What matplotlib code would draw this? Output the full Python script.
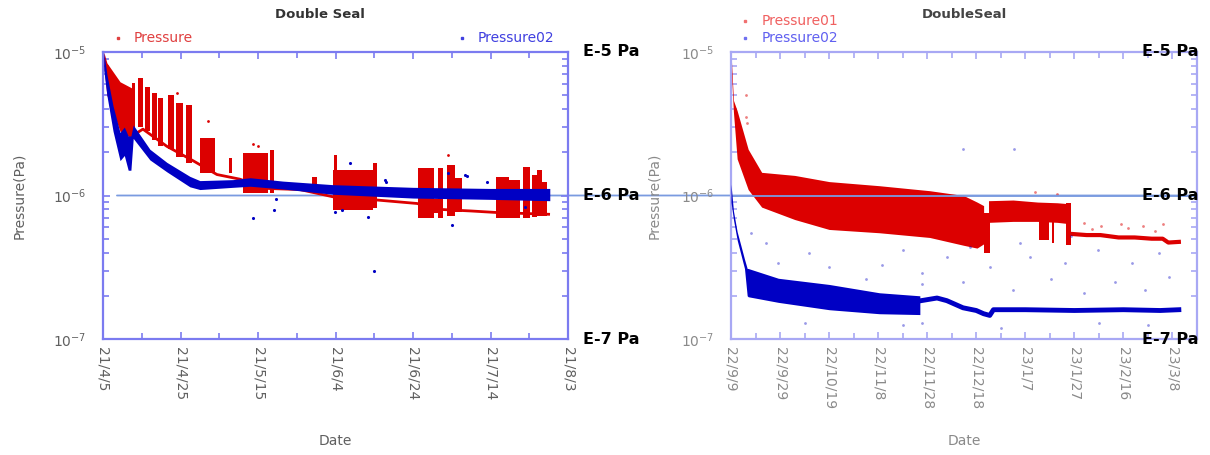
import matplotlib
matplotlib.use("Agg")
import matplotlib.pyplot as plt
import matplotlib.ticker as mticker
import matplotlib.dates as mdates
from matplotlib.patches import ConnectionPatch
from matplotlib.transforms import blended_transform_factory
import numpy as np
import pandas as pd

RED = "#dc0000"
BLUE = "#0000c4"

# ---------------- left chart "Double Seal", days after 2021-04-05 ----------------
l_start = "2021-04-05"
l_span = 120
l_labels = ["21/4/5", "21/4/25", "21/5/15", "21/6/4", "21/6/24", "21/7/14", "21/8/3"]

# Pressure02 band
l_blue_day = [0.2, 1.0, 2.6, 4.4, 5.5, 6.5, 7.2, 7.8, 12.1, 16.5, 22.4, 25, 33.5, 38, 46.4, 59.3, 80, 100, 115.3]
l_blue_lo = [7.5e-6, 5.0e-6, 2.8e-6, 1.75e-6, 1.9e-6, 1.5e-6, 1.5e-6, 2.5e-6, 1.77e-6, 1.46e-6, 1.15e-6, 1.1e-6,
             1.14e-6, 1.16e-6, 1.11e-6, 1.02e-6, 0.96e-6, 0.94e-6, 0.92e-6]
l_blue_hi = [1.0e-5, 7.0e-6, 4.2e-6, 2.75e-6, 3.0e-6, 2.6e-6, 2.6e-6, 3.1e-6, 2.1e-6, 1.7e-6, 1.36e-6, 1.27e-6,
             1.29e-6, 1.33e-6, 1.26e-6, 1.19e-6, 1.14e-6, 1.12e-6, 1.12e-6]
l_blue_pt_day = [38.7, 44.0, 44.6, 59.9, 61.7, 63.7, 68.4, 70, 72.7, 73, 89, 90, 93.4, 94, 99, 109]
l_blue_pt_p = [7.0e-7, 7.9e-7, 9.4e-7, 7.7e-7, 7.9e-7, 1.68e-6, 7.1e-7, 3.0e-7, 1.28e-6, 1.24e-6, 1.43e-6,
               6.2e-7, 1.4e-6, 1.37e-6, 1.24e-6, 8.3e-7]

# Pressure: early band, base line, bursts
l_red_day = [0.2, 1.0, 4.4, 7.5]
l_red_lo = [8e-6, 5e-6, 2.8e-6, 2.5e-6]
l_red_hi = [1e-5, 8.4e-6, 6.2e-6, 5.6e-6]
l_base_day = [7.5, 10.3, 16.5, 23.2, 29.4, 35.3, 42.3, 50.8, 59.3, 70.7, 81, 87, 95, 102, 115]
l_base_p = [2.6e-6, 2.9e-6, 2.2e-6, 1.75e-6, 1.4e-6, 1.3e-6, 1.12e-6, 1.1e-6, 0.98e-6, 0.93e-6, 0.88e-6,
            0.8e-6, 0.78e-6, 0.76e-6, 0.74e-6]
l_blk_start = [7.4, 9.1, 10.8, 12.6, 14.3, 16.9, 18.8, 21.4, 25.0, 32.4, 36.0, 43.1, 54.0, 59.3, 59.6, 69.7,
               81.4, 85.3, 86.5, 88.8, 90.9, 101.3, 104.7, 108.5, 110.7, 112.0, 113.3]
l_blk_end = [8.3, 10.2, 12.1, 13.9, 15.6, 18.3, 20.6, 22.9, 28.9, 33.2, 42.7, 44.0, 55.1, 69.7, 60.5, 70.7,
             85.3, 86.5, 87.8, 90.9, 92.6, 104.7, 107.7, 110.3, 112.0, 113.3, 114.6]
l_blk_lo = [2.6e-6, 3.0e-6, 2.8e-6, 2.44e-6, 2.2e-6, 2.1e-6, 1.86e-6, 1.68e-6, 1.43e-6, 1.43e-6, 1.04e-6,
            1.04e-6, 1.1e-6, 7.9e-7, 7.9e-7, 8.2e-7, 7.0e-7, 7.5e-7, 7.0e-7, 7.2e-7, 7.7e-7, 7.0e-7, 7.0e-7,
            7.0e-7, 7.1e-7, 7.2e-7, 7.2e-7]
l_blk_hi = [6.1e-6, 6.6e-6, 5.7e-6, 5.2e-6, 4.8e-6, 5.0e-6, 4.4e-6, 4.3e-6, 2.5e-6, 1.82e-6, 1.97e-6,
            2.08e-6, 1.34e-6, 1.5e-6, 1.9e-6, 1.68e-6, 1.55e-6, 9.5e-7, 1.55e-6, 1.63e-6, 1.32e-6, 1.34e-6,
            1.28e-6, 1.58e-6, 1.39e-6, 1.5e-6, 1.24e-6]
l_red_pt_day = [19, 27, 38.7, 40, 89]
l_red_pt_p = [5.2e-6, 3.3e-6, 2.3e-6, 2.2e-6, 1.9e-6]

# ---------------- right chart "DoubleSeal", days after 2022-09-09 ----------------
r_start = "2022-09-09"
r_span = 190
r_labels = ["22/9/9", "22/9/29", "22/10/19", "22/11/8", "22/11/28", "22/12/18", "23/1/7", "23/1/27",
            "23/2/16", "23/3/8"]

r_red_day = [0, 1, 2.5, 7, 12.5, 26, 40, 60.5, 81, 94.8, 100.3, 103]
r_red_lo = [8e-6, 3.8e-6, 1.8e-6, 1.1e-6, 8.3e-7, 6.8e-7, 5.8e-7, 5.5e-7, 5.1e-7, 4.5e-7, 4.3e-7, 4.6e-7]
r_red_hi = [1e-5, 4.6e-6, 3.9e-6, 2.1e-6, 1.45e-6, 1.38e-6, 1.25e-6, 1.17e-6, 1.08e-6, 1.0e-6, 0.9e-6, 0.85e-6]
r_red2_day = [105, 115, 125, 133, 136.5]
r_red2_lo = [6.5e-7, 6.6e-7, 6.6e-7, 6.5e-7, 6.4e-7]
r_red2_hi = [9.2e-7, 9.3e-7, 9.0e-7, 8.9e-7, 8.8e-7]
r_blk_start = [103, 125.5, 131.0, 136.5]
r_blk_end = [105.5, 129.5, 131.8, 138.7]
r_blk_lo = [4.0e-7, 4.9e-7, 4.7e-7, 4.5e-7]
r_blk_hi = [7.6e-7, 6.6e-7, 6.6e-7, 8.8e-7]
r_tail_day = [138.7, 145, 150.6, 158, 164.6, 171.5, 176, 178.3, 182.6]
r_tail_p = [5.4e-7, 5.3e-7, 5.3e-7, 5.1e-7, 5.1e-7, 5.0e-7, 5.0e-7, 4.7e-7, 4.75e-7]
r_red_pt_day = [6.2, 6.2, 6.4, 124, 133, 144, 147, 151, 159, 162, 168, 173, 176]
r_red_pt_p = [5.0e-6, 3.5e-6, 3.2e-6, 1.05e-6, 1.03e-6, 6.4e-7, 5.8e-7, 6.1e-7, 6.3e-7, 5.9e-7, 6.1e-7,
              5.7e-7, 6.3e-7]

r_blue_day = [0, 1, 2.5, 4, 5.5, 6.6, 7, 19.3, 40, 60.5, 77]
r_blue_lo = [9e-7, 6.8e-7, 4.9e-7, 3.9e-7, 3.1e-7, 2.0e-7, 1.97e-7, 1.8e-7, 1.6e-7, 1.5e-7, 1.48e-7]
r_blue_hi = [1.2e-6, 7.8e-7, 5.6e-7, 4.5e-7, 3.6e-7, 3.1e-7, 3.1e-7, 2.65e-7, 2.4e-7, 2.1e-7, 2.0e-7]
r_blue2_day = [77.5, 84, 88, 94.6, 100, 103, 105.5, 107, 120, 140, 160, 175, 182.6]
r_blue2_p = [1.85e-7, 1.93e-7, 1.85e-7, 1.65e-7, 1.58e-7, 1.5e-7, 1.46e-7, 1.6e-7, 1.6e-7, 1.58e-7, 1.6e-7,
             1.58e-7, 1.6e-7]
r_blue_pt_day = [8.2, 14.4, 19.3, 31.7, 39.9, 55, 61.7, 70, 78, 78, 78, 88, 94.7, 94.7, 97.5, 105.8, 115,
                 115.2, 118, 122, 130.5, 136, 138.7, 144, 149.8, 156.4, 163.4, 168.7, 174.5, 178.6, 30, 70,
                 110, 150, 170]
r_blue_pt_p = [5.5e-7, 4.7e-7, 3.4e-7, 4.0e-7, 3.2e-7, 2.6e-7, 3.3e-7, 4.2e-7, 2.9e-7, 1.3e-7, 2.4e-7,
               3.7e-7, 2.5e-7, 2.1e-6, 4.4e-7, 3.2e-7, 2.2e-7, 2.1e-6, 4.7e-7, 3.7e-7, 2.6e-7, 3.4e-7,
               5.2e-7, 2.1e-7, 4.2e-7, 2.5e-7, 3.4e-7, 2.2e-7, 4.0e-7, 2.7e-7, 1.3e-7, 1.25e-7, 1.2e-7,
               1.3e-7, 1.25e-7]

e_levels = [1e-5, 1e-6, 1e-7]
e_texts = ["E-5 Pa", "E-6 Pa", "E-7 Pa"]


def dates(start, days):
    return pd.Timestamp(start) + pd.to_timedelta(np.asarray(days, dtype=float), unit="D")


def setup(ax, start, span, labels, spine_col, text_col):
    ax.set_yscale("log")
    ax.set_ylim(1e-7, 1e-5)
    ax.set_xlim(dates(start, [0])[0], dates(start, [span])[0])
    ax.set_xticks(dates(start, np.arange(len(labels)) * 20))
    ax.set_xticklabels(labels, rotation=-90, fontsize=10, color=text_col)
    ax.set_xticks(dates(start, np.arange(0, span + 1, 10)), minor=True)
    ax.yaxis.set_minor_locator(mticker.LogLocator(base=10, subs=np.arange(2, 10)))
    ax.yaxis.set_minor_formatter(mticker.NullFormatter())
    ax.tick_params(which="both", direction="in", top=True, right=True, color=spine_col,
                   labelcolor=text_col, width=1.2)
    ax.tick_params(which="major", length=5)
    ax.tick_params(which="minor", length=4)
    ax.tick_params(axis="y", labelsize=10, pad=12)
    ax.tick_params(axis="x", pad=6)
    for s in ax.spines.values():
        s.set_color(spine_col)
        s.set_linewidth(1.6)
    ax.patch.set_visible(False)
    ax.set_xlabel("Date", fontsize=10, color=text_col)
    ax.xaxis.set_label_coords(0.5, -0.33)
    ax.set_ylabel("Pressure(Pa)", fontsize=10, color=text_col)


def blocks(ax, start, s_list, e_list, lo_list, hi_list, color):
    for s, e, lo, hi in zip(s_list, e_list, lo_list, hi_list):
        ax.fill_between(dates(start, [s, e]), [lo, lo], [hi, hi], color=color, lw=0, zorder=2)


fig = plt.figure(figsize=(12.1, 4.55), dpi=100)
ax1 = fig.add_axes([103 / 1210, 116 / 455, 465 / 1210, 287 / 455])
ax2 = fig.add_axes([731 / 1210, 116 / 455, 466 / 1210, 287 / 455])

# ---- left ----
setup(ax1, l_start, l_span, l_labels, "#7b7bf0", "#606060")
ax1.yaxis.set_label_coords(-0.165, 0.5)
ax1.fill_between(dates(l_start, l_red_day), l_red_lo, l_red_hi, color=RED, lw=0, zorder=2)
blocks(ax1, l_start, l_blk_start, l_blk_end, l_blk_lo, l_blk_hi, RED)
ax1.plot(dates(l_start, l_base_day), l_base_p, color=RED, lw=2, zorder=2)
ax1.scatter(dates(l_start, l_red_pt_day), l_red_pt_p, s=4, color=RED, lw=0, zorder=2)
ax1.fill_between(dates(l_start, l_blue_day), l_blue_lo, l_blue_hi, color=BLUE, lw=0, zorder=3)
ax1.scatter(dates(l_start, l_blue_pt_day), l_blue_pt_p, s=5, color=BLUE, lw=0, zorder=3)
ax1.text(0.467, 1.129, "Double Seal", transform=ax1.transAxes, ha="center", va="center",
         fontsize=9.5, fontweight="bold", color="#333333")
ax1.plot([0.032], [1.049], marker="s", ms=2, color="#e04040", transform=ax1.transAxes, clip_on=False)
ax1.text(0.066, 1.049, "Pressure", transform=ax1.transAxes, ha="left", va="center", fontsize=10,
         color="#e04040")
ax1.plot([0.772], [1.049], marker="s", ms=2, color="#4040e0", transform=ax1.transAxes, clip_on=False)
ax1.text(0.805, 1.049, "Pressure02", transform=ax1.transAxes, ha="left", va="center", fontsize=10,
         color="#4040e0")

# ---- right ----
setup(ax2, r_start, r_span, r_labels, "#a8a8f4", "#8a8a8a")
ax2.yaxis.set_label_coords(-0.15, 0.5)
ax2.fill_between(dates(r_start, r_red_day), r_red_lo, r_red_hi, color=RED, lw=0, zorder=2)
ax2.fill_between(dates(r_start, r_red2_day), r_red2_lo, r_red2_hi, color=RED, lw=0, zorder=2)
blocks(ax2, r_start, r_blk_start, r_blk_end, r_blk_lo, r_blk_hi, RED)
ax2.plot(dates(r_start, r_tail_day), r_tail_p, color=RED, lw=3, zorder=2)
ax2.scatter(dates(r_start, r_red_pt_day), r_red_pt_p, s=4, color=RED, alpha=0.5, lw=0, zorder=2)
ax2.axhline(1e-6, color="#7a9be0", lw=1.3, zorder=2.5)
ax2.fill_between(dates(r_start, r_blue_day), r_blue_lo, r_blue_hi, color=BLUE, lw=0, zorder=3)
ax2.plot(dates(r_start, r_blue2_day), r_blue2_p, color=BLUE, lw=3.5, zorder=3)
ax2.scatter(dates(r_start, r_blue_pt_day), r_blue_pt_p, s=4, color=BLUE, alpha=0.4, lw=0, zorder=3)
ax2.text(0.5, 1.129, "DoubleSeal", transform=ax2.transAxes, ha="center", va="center",
         fontsize=9.5, fontweight="bold", color="#444444")
ax2.plot([0.03], [1.108], marker="s", ms=2, color="#f07070", transform=ax2.transAxes, clip_on=False)
ax2.text(0.066, 1.108, "Pressure01", transform=ax2.transAxes, ha="left", va="center", fontsize=10,
         color="#f06060")
ax2.plot([0.03], [1.049], marker="s", ms=2, color="#7070f0", transform=ax2.transAxes, clip_on=False)
ax2.text(0.066, 1.049, "Pressure02", transform=ax2.transAxes, ha="left", va="center", fontsize=10,
         color="#6060f0")

# 1E-6 guide line running across both charts
line = ConnectionPatch(xyA=(mdates.date2num(dates(l_start, [3.6])[0]), 1e-6), coordsA=ax1.transData,
                       xyB=(mdates.date2num(dates(r_start, [r_span])[0]), 1e-6), coordsB=ax2.transData,
                       color="#7a9be0", lw=1.3, zorder=-1)
fig.add_artist(line)

# E-x Pa annotations
t1 = blended_transform_factory(ax1.transAxes, ax1.transData)
t2 = blended_transform_factory(ax2.transAxes, ax2.transData)
for lvl, txt in zip(e_levels, e_texts):
    ax1.text(1.032, lvl, txt, transform=t1, ha="left", va="center", fontsize=11.5,
             fontweight="bold", color="black", zorder=5)
    ax2.text(1.003, lvl, txt, transform=t2, ha="right", va="center", fontsize=11.5,
             fontweight="bold", color="black", zorder=5)

fig.savefig("out.png", dpi=100)
